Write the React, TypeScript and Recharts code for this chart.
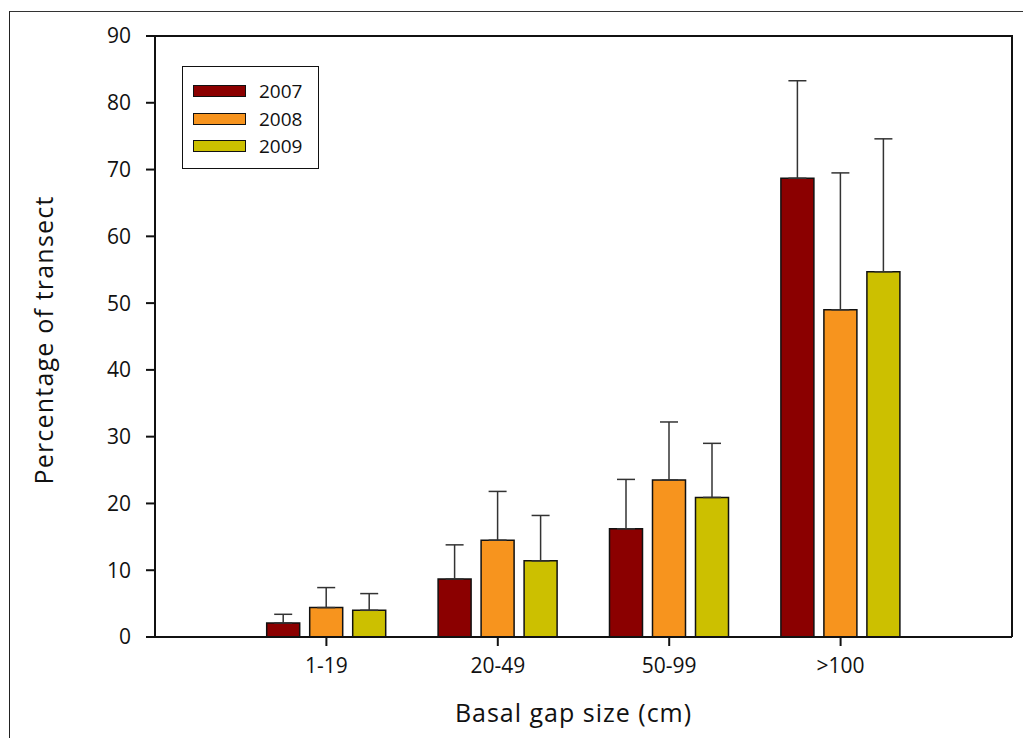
import React from 'react';
import { BarChart, Bar, XAxis, YAxis, ErrorBar } from 'recharts';

const categories = ['1-19', '20-49', '50-99', '>100'];
const years = ['2007', '2008', '2009'];
const values2007 = [2.1, 8.7, 16.2, 68.7];
const values2008 = [4.4, 14.5, 23.5, 49.0];
const values2009 = [4.0, 11.4, 20.9, 54.7];
const errors2007 = [1.3, 5.1, 7.4, 14.6];
const errors2008 = [3.0, 7.3, 8.7, 20.5];
const errors2009 = [2.5, 6.8, 8.1, 19.9];
const yTicks = [0, 10, 20, 30, 40, 50, 60, 70, 80, 90];
const colors = ['#8B0000', '#F7941E', '#CCC000'];

const data = categories.map((c, i) => ({
  cat: c,
  y2007: values2007[i],
  y2008: values2008[i],
  y2009: values2009[i],
  e2007: [0, errors2007[i]],
  e2008: [0, errors2008[i]],
  e2009: [0, errors2009[i]],
}));

const FONT = '"Open Sans", "Noto Sans", sans-serif';

const LegendBox = () => (
  <div
    style={{
      position: 'absolute',
      left: 182,
      top: 66,
      width: 135,
      height: 101,
      border: '1.5px solid #111',
      background: '#fff',
      boxSizing: 'content-box',
      fontFamily: FONT,
    }}
  >
    {years.map((y, i) => (
      <div
        key={y}
        style={{
          position: 'absolute',
          left: 10,
          top: 17 + i * 27.5,
          height: 14,
          display: 'flex',
          alignItems: 'center',
        }}
      >
        <div
          style={{
            width: 51,
            height: 10,
            background: colors[i],
            border: '1px solid #111',
          }}
        />
        <span style={{ marginLeft: 13, fontSize: 19, color: '#111', lineHeight: '14px' }}>{y}</span>
      </div>
    ))}
  </div>
);

export default function App() {
  return (
    <div style={{ position: 'absolute', left: 0, top: 0, width: 1023, height: 738, background: '#fff' }}>
      <div
        style={{
          position: 'absolute',
          left: 9,
          top: 11,
          width: 1014,
          height: 727,
          borderTop: '1px solid #333',
          borderLeft: '1.5px solid #222',
          boxSizing: 'border-box',
        }}
      />
      <div
        style={{
          position: 'absolute',
          left: 155,
          top: 35,
          width: 858,
          height: 602,
          borderTop: '2px solid #111',
          borderRight: '2px solid #111',
          boxSizing: 'border-box',
        }}
      />
      <BarChart
        width={1023}
        height={738}
        data={data}
        margin={{ top: 36, right: 11, left: 95, bottom: 61 }}
        barSize={33}
        barGap={10}
        style={{ position: 'absolute', left: 0, top: 0 }}
      >
        <XAxis
          dataKey="cat"
          padding={{ left: 85.7, right: 85.7 }}
          height={40}
          tickSize={9}
          tickMargin={12}
          axisLine={{ stroke: '#111', strokeWidth: 2 }}
          tickLine={{ stroke: '#111', strokeWidth: 2 }}
          tick={{ fill: '#111', fontSize: 21, fontFamily: FONT }}
        />
        <YAxis
          domain={[0, 90]}
          ticks={yTicks}
          width={60}
          tickSize={9}
          tickMargin={15}
          interval={0}
          axisLine={{ stroke: '#111', strokeWidth: 2 }}
          tickLine={{ stroke: '#111', strokeWidth: 2 }}
          tick={{ fill: '#111', fontSize: 21, fontFamily: FONT }}
        />
        <Bar dataKey="y2007" name={years[0]} fill={colors[0]} stroke="#111" strokeWidth={1.5} isAnimationActive={false}>
          <ErrorBar dataKey="e2007" width={9} stroke="#333" strokeWidth={1.5} direction="y" isAnimationActive={false} />
        </Bar>
        <Bar dataKey="y2008" name={years[1]} fill={colors[1]} stroke="#111" strokeWidth={1.5} isAnimationActive={false}>
          <ErrorBar dataKey="e2008" width={9} stroke="#333" strokeWidth={1.5} direction="y" isAnimationActive={false} />
        </Bar>
        <Bar dataKey="y2009" name={years[2]} fill={colors[2]} stroke="#111" strokeWidth={1.5} isAnimationActive={false}>
          <ErrorBar dataKey="e2009" width={9} stroke="#333" strokeWidth={1.5} direction="y" isAnimationActive={false} />
        </Bar>
      </BarChart>
      <LegendBox />
      <svg
        width={1023}
        height={738}
        style={{ position: 'absolute', left: 0, top: 0, pointerEvents: 'none' }}
      >
        <text
          transform="translate(53,340) rotate(-90)"
          textAnchor="middle"
          fontSize={25}
          letterSpacing={1.2}
          fontFamily={FONT}
          fill="#111"
        >
          Percentage of transect
        </text>
        <text
          x={573.5}
          y={722}
          textAnchor="middle"
          fontSize={25}
          letterSpacing={1}
          fontFamily={FONT}
          fill="#111"
        >
          Basal gap size (cm)
        </text>
      </svg>
    </div>
  );
}
